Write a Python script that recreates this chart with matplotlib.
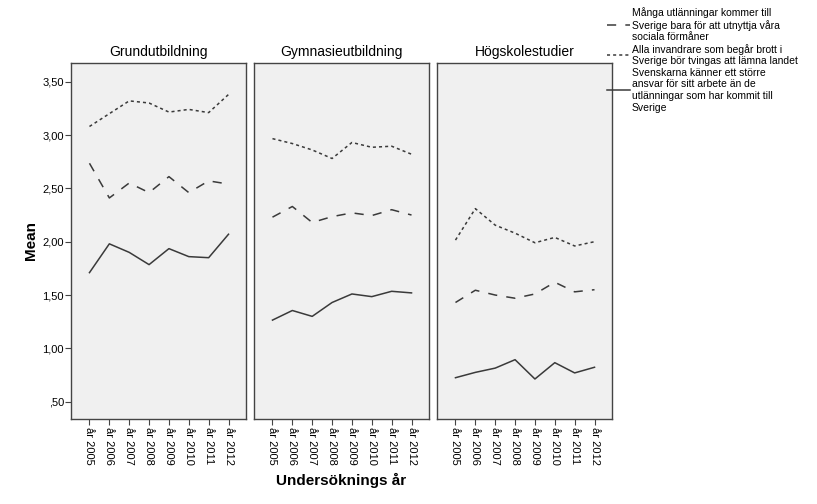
import matplotlib
matplotlib.use('Agg')
import matplotlib.pyplot as plt
from matplotlib.lines import Line2D

plt.rcParams['font.family'] = ['Liberation Sans', 'DejaVu Sans']

years = ['år 2005', 'år 2006', 'år 2007', 'år 2008', 'år 2009', 'år 2010', 'år 2011', 'år 2012']
panels = ['Grundutbildning', 'Gymnasieutbildning', 'Högskolestudier']

# Många utlänningar kommer till Sverige bara för att utnyttja våra sociala förmåner
formaner = [
    [2.735, 2.41, 2.55, 2.46, 2.61, 2.46, 2.57, 2.54],
    [2.23, 2.33, 2.18, 2.235, 2.27, 2.245, 2.30, 2.25],
    [1.43, 1.545, 1.50, 1.47, 1.51, 1.62, 1.53, 1.55],
]
# Alla invandrare som begår brott i Sverige bör tvingas att lämna landet
brott = [
    [3.08, 3.20, 3.32, 3.30, 3.215, 3.24, 3.21, 3.38],
    [2.966, 2.92, 2.86, 2.78, 2.93, 2.885, 2.895, 2.82],
    [2.015, 2.31, 2.155, 2.08, 1.99, 2.04, 1.96, 2.00],
]
# Svenskarna känner ett större ansvar för sitt arbete än de utlänningar som har kommit till Sverige
ansvar = [
    [1.71, 1.98, 1.90, 1.785, 1.935, 1.86, 1.85, 2.07],
    [1.265, 1.355, 1.30, 1.43, 1.51, 1.485, 1.535, 1.52],
    [0.725, 0.775, 0.815, 0.894, 0.713, 0.866, 0.77, 0.823],
]

legend_labels = [
    'Många utlänningar kommer till\nSverige bara för att utnyttja våra\nsociala förmåner',
    'Alla invandrare som begår brott i\nSverige bör tvingas att lämna landet',
    'Svenskarna känner ett större\nansvar för sitt arbete än de\nutlänningar som har kommit till\nSverige',
]

W, H = 817, 504
fig = plt.figure(figsize=(W / 100, H / 100), dpi=100)

lc = '#3a3a3a'
dash = (0, (6, 6))
dot = (0, (2, 2))
lefts = [71, 254, 437]
pw = 175
top, bottom = 63, 419

x = list(range(len(years)))
for i, name in enumerate(panels):
    ax = fig.add_axes([lefts[i] / W, (H - bottom) / H, pw / W, (bottom - top) / H])
    ax.set_facecolor('#f0f0f0')
    ax.plot(x, formaner[i], color=lc, lw=1.1, linestyle=dash)
    ax.plot(x, brott[i], color=lc, lw=1.1, linestyle=dot)
    ax.plot(x, ansvar[i], color=lc, lw=1.1, linestyle='-')
    ax.set_xlim(-0.93, 7.88)
    ax.set_ylim(0.338, 3.675)
    ax.set_xticks(x)
    ax.set_xticklabels(years, rotation=270, fontsize=8)
    ax.set_title(name, fontsize=10, pad=5)
    for s in ax.spines.values():
        s.set_color('#444444')
        s.set_linewidth(1.0)
    ax.tick_params(axis='x', length=4, color='#444444', pad=2)
    if i == 0:
        ax.set_yticks([0.5, 1.0, 1.5, 2.0, 2.5, 3.0, 3.5])
        ax.set_yticklabels([',50', '1,00', '1,50', '2,00', '2,50', '3,00', '3,50'], fontsize=8)
        ax.tick_params(axis='y', length=4, color='#444444', pad=1)
        ax.set_ylabel('Mean', fontsize=11, fontweight='bold', labelpad=3)
    else:
        ax.set_yticks([])

fig.text(341 / W, 1 - 480 / H, 'Undersöknings år', fontsize=11, fontweight='bold',
         ha='center', va='center')

handles = [
    Line2D([], [], color=lc, lw=1.1, linestyle=dash),
    Line2D([], [], color=lc, lw=1.1, linestyle=dot),
    Line2D([], [], color=lc, lw=1.1, linestyle='-'),
]
fig.legend(handles, legend_labels, loc='upper left', bbox_to_anchor=(607 / W, 1 - 7 / H),
           frameon=False, fontsize=7.5, handlelength=2.2, handletextpad=0.2,
           labelspacing=0.15, borderaxespad=0, borderpad=0)

fig.savefig('out.png', dpi=100, facecolor='white')
